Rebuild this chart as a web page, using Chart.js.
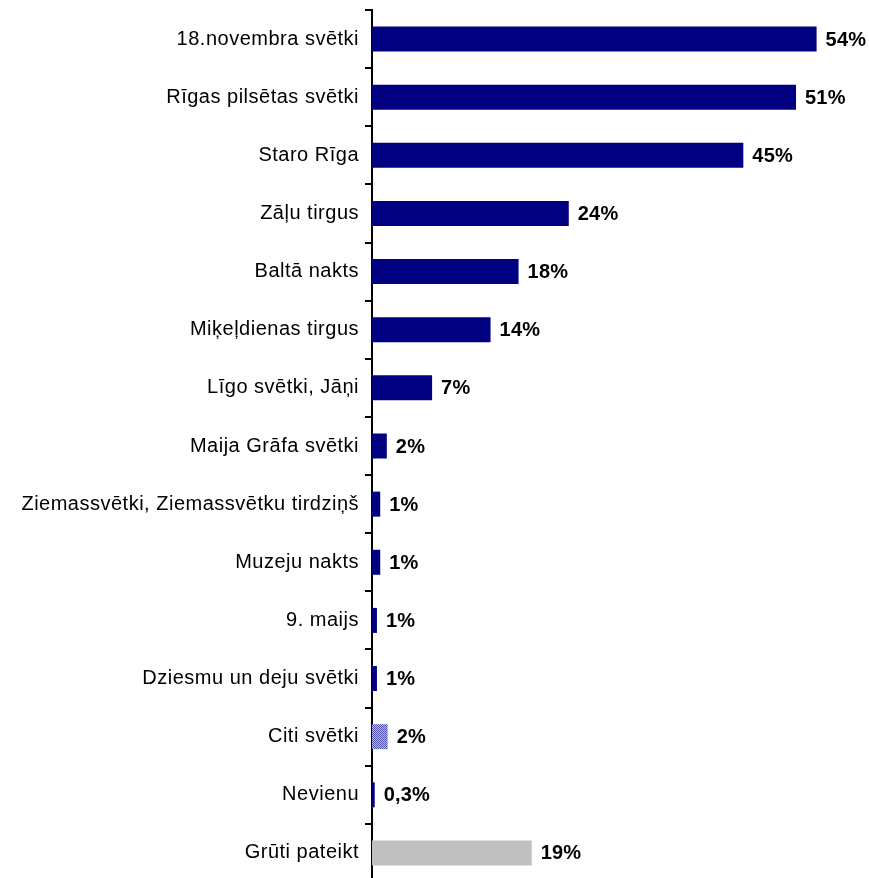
<!DOCTYPE html>
<html>
<head>
<meta charset="utf-8">
<script src="https://cdn.jsdelivr.net/npm/chart.js@4"></script>
<style>
  html, body { margin: 0; padding: 0; background: #fff; overflow: hidden; }
  #wrap { width: 869px; height: 892px; position: relative; }
</style>
</head>
<body>
<div id="wrap"><canvas id="chart"></canvas></div>
<script>
const categories = [
  '18.novembra svētki',
  'Rīgas pilsētas svētki',
  'Staro Rīga',
  'Zāļu tirgus',
  'Baltā nakts',
  'Miķeļdienas tirgus',
  'Līgo svētki, Jāņi',
  'Maija Grāfa svētki',
  'Ziemassvētki, Ziemassvētku tirdziņš',
  'Muzeju nakts',
  '9. maijs',
  'Dziesmu un deju svētki',
  'Citi svētki',
  'Nevienu',
  'Grūti pateikt'
];
// bar lengths (percent)
const values = [54, 51.5, 45.1, 23.9, 17.8, 14.4, 7.3, 1.8, 1.0, 1.0, 0.6, 0.6, 1.9, 0.33, 19.4];
// printed labels
const valueLabels = ['54%', '51%', '45%', '24%', '18%', '14%', '7%', '2%', '1%', '1%', '1%', '1%', '2%', '0,3%', '19%'];

const NAVY = '#000080';

function makePattern() {
  const c = document.createElement('canvas');
  c.width = 2; c.height = 2;
  const p = c.getContext('2d');
  p.fillStyle = '#b4b4e6';
  p.fillRect(0, 0, 2, 2);
  p.fillStyle = '#5656b4';
  p.fillRect(0, 0, 1, 1);
  p.fillRect(1, 1, 1, 1);
  return p.createPattern(c, 'repeat');
}

const barColors = categories.map((c) => {
  if (c === 'Citi svētki') return makePattern();
  if (c === 'Grūti pateikt') return '#c0c0c0';
  return NAVY;
});

const spacingPlugin = {
  id: 'spacing',
  beforeDraw(chart) {
    chart.ctx.letterSpacing = '0.5px';
  }
};

const labelPlugin = {
  id: 'valueLabels',
  afterDatasetsDraw(chart) {
    const ctx = chart.ctx;
    const meta = chart.getDatasetMeta(0);
    ctx.save();
    ctx.letterSpacing = '0.2px';
    ctx.font = "bold 20px 'Liberation Sans', Arial, sans-serif";
    ctx.fillStyle = '#000';
    ctx.textAlign = 'left';
    ctx.textBaseline = 'middle';
    meta.data.forEach((bar, i) => {
      ctx.fillText(valueLabels[i], bar.x + 9, bar.y + 1);
    });
    ctx.restore();
  }
};

new Chart(document.getElementById('chart'), {
  type: 'bar',
  data: {
    labels: categories,
    datasets: [{
      data: values,
      backgroundColor: barColors,
      barPercentage: 0.43,
      categoryPercentage: 1
    }]
  },
  options: {
    indexAxis: 'y',
    responsive: true,
    maintainAspectRatio: false,
    animation: false,
    layout: { padding: { top: 10, bottom: 10, left: 0, right: 3 } },
    plugins: {
      legend: { display: false },
      tooltip: { enabled: false }
    },
    scales: {
      x: {
        display: false,
        min: 0,
        max: 60
      },
      y: {
        afterFit(scale) {
          scale.width = 372;
          scale.paddingTop = 0;
          scale.paddingBottom = 0;
        },
        grid: {
          display: true,
          drawOnChartArea: false,
          drawTicks: true,
          tickLength: 7,
          offset: true,
          color: '#000',
          lineWidth: 2
        },
        border: { display: true, color: '#000', width: 2 },
        ticks: {
          color: '#000',
          padding: 6,
          autoSkip: false,
          font: { family: "'Liberation Sans', Arial, sans-serif", size: 20 }
        }
      }
    }
  },
  plugins: [spacingPlugin, labelPlugin]
});
</script>
</body>
</html>
